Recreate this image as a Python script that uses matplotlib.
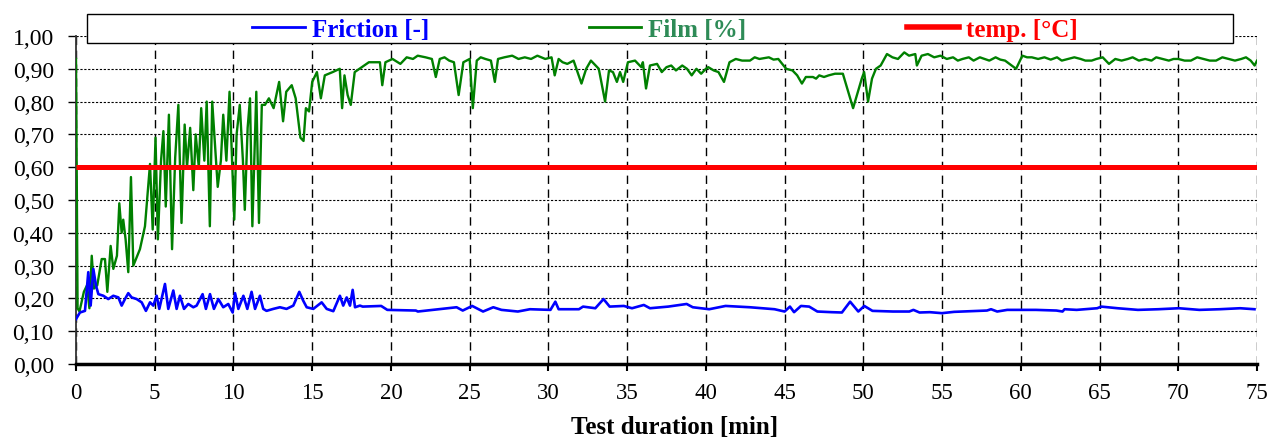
import matplotlib
matplotlib.use('Agg')
import matplotlib.pyplot as plt
from matplotlib.lines import Line2D
from matplotlib.patches import Rectangle
from matplotlib.ticker import FuncFormatter

# ---------------- data ----------------
film_t = [0.00, 0.10, 0.22, 0.50, 0.70, 0.85, 1.00, 1.14, 1.35, 1.63, 1.84, 1.99, 2.20, 2.37, 2.60,
          2.75, 2.90, 3.00, 3.15, 3.32, 3.49, 3.64, 4.06, 4.38, 4.70, 4.87, 5.05, 5.20, 5.40, 5.55,
          5.70, 5.90, 6.10, 6.30, 6.50, 6.70, 6.90, 7.05, 7.25, 7.45, 7.60, 7.80, 7.95, 8.15, 8.30,
          8.50, 8.65, 8.85, 9.00, 9.20, 9.35, 9.55, 9.75, 10.05, 10.20, 10.40, 10.60, 10.72, 10.90,
          11.05, 11.20, 11.45, 11.62, 11.80, 12.00, 12.25, 12.55, 12.90, 13.15, 13.35, 13.70, 13.95,
          14.25, 14.45, 14.60, 14.80, 15.00, 15.30, 15.55, 15.80, 16.30, 16.75, 16.90, 17.05, 17.25,
          17.45, 17.70, 18.00, 18.30, 18.60, 19.00, 19.30, 19.45, 19.65, 20.10, 20.60, 21.00, 21.40,
          21.70, 22.20, 22.60, 22.85, 23.10, 23.40, 23.70, 24.00, 24.30, 24.60, 25.00, 25.20, 25.45,
          25.70, 26.00, 26.35, 26.60, 26.80, 27.20, 27.70, 28.10, 28.50, 28.90, 29.30, 29.80, 30.20,
          30.40, 30.65, 30.90, 31.20, 31.60, 32.10, 32.40, 32.70, 33.20, 33.60, 33.85, 34.10, 34.35,
          34.55, 34.75, 35.05, 35.50, 35.90, 36.00, 36.20, 36.45, 36.90, 37.20, 37.50, 37.80, 38.10,
          38.50, 38.80, 39.10, 39.40, 39.70, 40.00, 40.15, 40.50, 40.80, 41.15, 41.50, 41.90, 42.30,
          42.80, 43.10, 43.40, 44.00, 44.30, 44.60, 45.10, 45.50, 45.80, 46.10, 46.35, 46.80, 47.00,
          47.20, 47.50, 47.80, 48.20, 48.70, 49.35, 49.90, 50.05, 50.30, 50.55, 50.80, 51.10, 51.50,
          51.85, 52.20, 52.60, 52.90, 53.30, 53.40, 53.70, 54.10, 54.50, 54.90, 55.30, 55.70, 56.00,
          56.30, 56.70, 57.00, 57.40, 57.70, 58.00, 58.40, 58.70, 59.00, 59.70, 60.10, 60.40, 60.70,
          61.10, 61.50, 61.90, 62.30, 62.60, 63.00, 63.40, 63.80, 64.10, 64.50, 64.80, 65.20, 65.60,
          66.00, 66.40, 66.80, 67.10, 67.50, 67.90, 68.30, 68.60, 69.00, 69.40, 69.70, 70.00, 70.40,
          70.80, 71.20, 71.60, 72.00, 72.40, 72.80, 73.20, 73.60, 74.00, 74.30, 74.60, 74.85, 75.00]
film_v = [0.93, 0.17, 0.16, 0.22, 0.24, 0.17, 0.33, 0.23, 0.24, 0.32, 0.32, 0.22, 0.36, 0.29, 0.33,
          0.49, 0.40, 0.44, 0.38, 0.28, 0.57, 0.30, 0.35, 0.42, 0.61, 0.41, 0.69, 0.38, 0.62, 0.71,
          0.48, 0.76, 0.35, 0.63, 0.79, 0.43, 0.73, 0.60, 0.72, 0.53, 0.70, 0.60, 0.78, 0.62, 0.80,
          0.42, 0.80, 0.65, 0.54, 0.62, 0.76, 0.62, 0.83, 0.44, 0.70, 0.79, 0.62, 0.47, 0.72,
          0.81, 0.42, 0.83, 0.43, 0.79, 0.79, 0.81, 0.78, 0.86, 0.74, 0.83, 0.85, 0.81,
          0.69, 0.68, 0.78, 0.77, 0.86, 0.89, 0.81, 0.88, 0.89, 0.90, 0.78, 0.88, 0.82,
          0.79, 0.89, 0.90, 0.91, 0.92, 0.92, 0.92, 0.85, 0.92, 0.93, 0.915, 0.935, 0.93,
          0.94, 0.935, 0.93, 0.875, 0.93, 0.935, 0.925, 0.92, 0.82, 0.92, 0.93, 0.78, 0.925,
          0.935, 0.93, 0.925, 0.86, 0.93, 0.935, 0.94, 0.93, 0.935, 0.93, 0.94, 0.93, 0.935,
          0.88, 0.93, 0.92, 0.915, 0.925, 0.855, 0.90, 0.925, 0.90, 0.80, 0.895, 0.89, 0.86,
          0.89, 0.86, 0.92, 0.925, 0.905, 0.92, 0.84, 0.91, 0.915, 0.89, 0.905, 0.91, 0.895,
          0.91, 0.90, 0.88, 0.90, 0.885, 0.90, 0.905, 0.895, 0.89, 0.86, 0.92, 0.93, 0.925,
          0.925, 0.935, 0.93, 0.935, 0.928, 0.93, 0.90, 0.895, 0.88, 0.855, 0.875, 0.875, 0.87,
          0.88, 0.875, 0.88, 0.885, 0.885, 0.78, 0.87, 0.89, 0.80, 0.87, 0.90, 0.91, 0.945,
          0.935, 0.93, 0.95, 0.94, 0.945, 0.91, 0.94, 0.945, 0.935, 0.94, 0.93, 0.935, 0.925,
          0.93, 0.935, 0.925, 0.935, 0.93, 0.925, 0.935, 0.928, 0.925, 0.90, 0.94, 0.935, 0.935,
          0.93, 0.935, 0.928, 0.935, 0.925, 0.93, 0.935, 0.93, 0.925, 0.925, 0.93, 0.935, 0.915,
          0.93, 0.925, 0.93, 0.935, 0.925, 0.93, 0.925, 0.935, 0.93, 0.925, 0.93, 0.93, 0.925,
          0.925, 0.935, 0.93, 0.925, 0.925, 0.935, 0.93, 0.925, 0.93, 0.935, 0.925, 0.91, 0.925]

fric_t = [0.00, 0.25, 0.57, 0.78, 0.93, 1.10, 1.27, 1.42, 1.74, 2.05, 2.37, 2.69, 2.90, 3.11, 3.32,
          3.53, 3.85, 4.17, 4.44, 4.70, 4.91, 5.12, 5.29, 5.65, 5.86, 6.18, 6.39, 6.60, 6.86, 7.13,
          7.45, 7.66, 8.04, 8.25, 8.51, 8.76, 9.04, 9.35, 9.67, 9.95, 10.10, 10.31, 10.63, 10.88,
          11.15, 11.37, 11.68, 11.89, 12.10, 12.53, 12.95, 13.37, 13.80, 14.18, 14.43, 14.65, 15.07,
          15.60, 15.92, 16.34, 16.76, 16.97, 17.19, 17.40, 17.57, 17.72, 18.03, 18.21, 19.38, 19.77,
          21.58, 21.71, 24.17, 24.56, 25.16, 25.85, 26.50, 27.02, 28.06, 28.83, 30.13, 30.44, 30.65,
          31.94, 32.20, 32.98, 33.50, 33.89, 34.79, 35.31, 36.06, 36.45, 37.61, 38.78, 39.17, 40.21,
          41.25, 42.80, 44.36, 45.00, 45.34, 45.60, 46.04, 46.56, 47.08, 47.99, 48.64, 49.16, 49.68,
          50.06, 50.58, 51.88, 52.92, 53.18, 53.57, 54.22, 54.99, 55.77, 57.85, 58.11, 58.50, 59.14,
          60.96, 62.26, 62.65, 62.78, 63.55, 64.85, 65.11, 66.15, 67.44, 68.74, 70.04, 71.34, 72.63,
          73.93, 74.84]
fric_v = [0.137, 0.157, 0.162, 0.280, 0.178, 0.290, 0.239, 0.213, 0.208, 0.198, 0.208, 0.203, 0.178,
          0.198, 0.216, 0.203, 0.198, 0.188, 0.162, 0.188, 0.178, 0.208, 0.168, 0.244, 0.168, 0.224,
          0.168, 0.208, 0.168, 0.183, 0.173, 0.178, 0.213, 0.168, 0.213, 0.168, 0.198, 0.173, 0.183,
          0.157, 0.216, 0.168, 0.208, 0.168, 0.220, 0.168, 0.208, 0.168, 0.162, 0.168, 0.173, 0.168,
          0.178, 0.220, 0.193, 0.173, 0.168, 0.188, 0.168, 0.161, 0.208, 0.178, 0.203, 0.178, 0.226,
          0.173, 0.178, 0.175, 0.177, 0.165, 0.163, 0.160, 0.173, 0.163, 0.177, 0.160, 0.173, 0.165,
          0.160, 0.167, 0.165, 0.190, 0.167, 0.167, 0.175, 0.170, 0.198, 0.175, 0.177, 0.170, 0.180,
          0.170, 0.175, 0.183, 0.173, 0.167, 0.177, 0.173, 0.167, 0.160, 0.175, 0.158, 0.177, 0.175,
          0.160, 0.158, 0.157, 0.190, 0.160, 0.177, 0.162, 0.160, 0.160, 0.165, 0.157, 0.158, 0.155,
          0.159, 0.163, 0.167, 0.160, 0.165, 0.165, 0.163, 0.160, 0.167, 0.165, 0.170, 0.175, 0.170,
          0.165, 0.167, 0.170, 0.165, 0.167, 0.170, 0.167]

temp_t = [0, 75]
temp_v = [0.60, 0.60]

x_ticks = list(range(0, 76, 5))
y_ticks = [i / 10 for i in range(11)]
series_labels = ['Friction [-]', 'Film [%]', 'temp. [°C]']
x_label = 'Test duration [min]'

# ---------------- figure ----------------
W, H = 1272, 439
SERIF = 'Liberation Serif'
plt.rcParams['font.family'] = [SERIF, 'DejaVu Serif']

fig = plt.figure(figsize=(W / 100, H / 100), dpi=100)
ax = fig.add_axes([76 / W, 1 - 365 / H, (1257 - 76) / W, (365 - 37) / H])

ax.plot(film_t, film_v, color='#008000', lw=1.7, zorder=3)
ax.plot(fric_t, fric_v, color='#0000FF', lw=1.9, zorder=4)
ax.plot(temp_t, temp_v, color='#FF0000', lw=3.6, zorder=5, solid_capstyle='butt')

ax.set_xlim(0, 75)
ax.set_ylim(0, 1.0)
ax.set_xticks(x_ticks)
ax.set_yticks(y_ticks)
ax.yaxis.set_major_formatter(FuncFormatter(lambda v, p: f"{v:.2f}".replace('.', ',')))

ax.set_axisbelow(True)
ax.xaxis.grid(True, color='black', lw=1.0, linestyle=(0, (6, 4)))
ax.yaxis.grid(True, color='black', lw=0.8, linestyle=(0, (2, 1.5)))

for s in ['top', 'right']:
    ax.spines[s].set_visible(False)
ax.spines['left'].set_color('#333333')
ax.spines['left'].set_linewidth(1.3)
ax.spines['bottom'].set_color('black')
ax.spines['bottom'].set_linewidth(2.5)

ax.tick_params(axis='y', direction='out', length=6, width=1, pad=10, labelsize=17)
ax.tick_params(axis='x', direction='out', length=5, width=1.5, pad=8, labelsize=16.5)

# legend box
rect = Rectangle((87 / W, 1 - 44 / H), (1233 - 87) / W, 29 / H, transform=fig.transFigure,
                 facecolor='white', edgecolor='black', lw=1.0, zorder=10)
fig.add_artist(rect)

handles = [Line2D([], [], color='#0000FF', lw=2.0),
           Line2D([], [], color='#008000', lw=2.0),
           Line2D([], [], color='#FF0000', lw=4.0)]
leg = fig.legend(handles, series_labels, loc='center', bbox_to_anchor=(665 / W, 1 - 30 / H),
                 ncol=3, frameon=False, columnspacing=6.4, handlelength=2.1, handletextpad=0.28,
                 prop=dict(family=SERIF, weight='bold', size=18), borderpad=0)
for t, c in zip(leg.get_texts(), ['#0000FF', '#2E8B57', '#FF0000']):
    t.set_color(c)
leg.set_zorder(11)

fig.text(675 / W, 1 - 428 / H, x_label, ha='center', va='center',
         fontweight='bold', fontsize=18, family=SERIF)

fig.savefig('out.png', dpi=100)
